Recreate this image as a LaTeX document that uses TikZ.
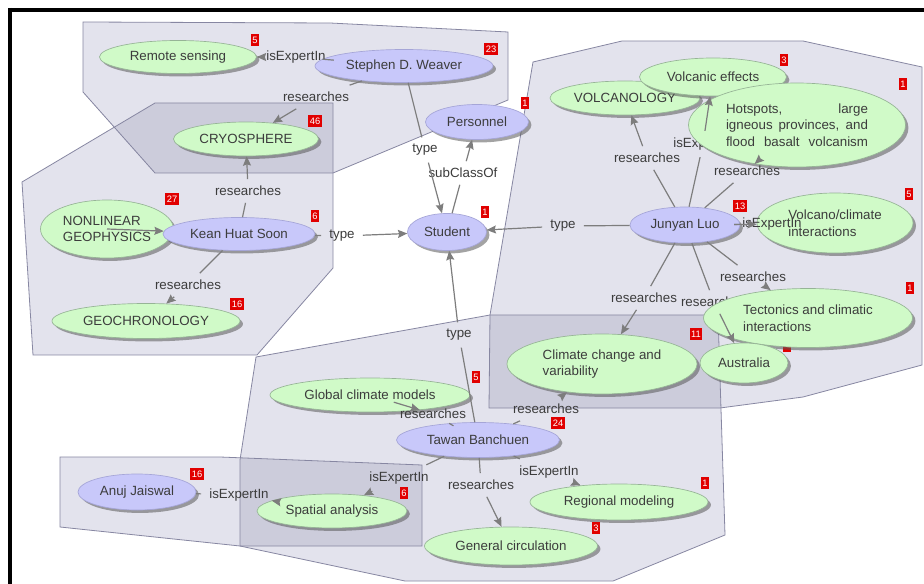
\documentclass[tikz,border=0pt]{standalone}
\usepackage{fontspec}
\setmainfont{Liberation Sans}
\usetikzlibrary{shapes.geometric,arrows.meta,shadows}

\definecolor{grpfill}{RGB}{227,227,237}
\definecolor{grpdark}{RGB}{204,204,219}
\definecolor{grpline}{RGB}{135,135,162}
\definecolor{topicfill}{RGB}{208,250,200}
\definecolor{topicline}{RGB}{150,180,150}
\definecolor{personfill}{RGB}{200,200,250}
\definecolor{personline}{RGB}{165,165,215}
\definecolor{edgecol}{RGB}{125,125,125}
\definecolor{txt}{RGB}{60,60,60}
\definecolor{badgered}{RGB}{225,0,0}

% group outlines (pixel coordinates, y downwards)
\newcommand\polyWeaver{(83,22) -- (330,23) -- (508,32) -- (508,100) -- (333,173) -- (155,173) -- (83,92) -- cycle}
\newcommand\polySoon{(155,103) -- (333,103) -- (333,268) -- (257,355) -- (33,355) -- (22,182) -- cycle}
\newcommand\polyLuo{(533,62) -- (622,41) -- (803,41) -- (922,67) -- (922,365) -- (803,397) -- (720,408) -- (489,408) -- (490,315) -- cycle}
\newcommand\polyBanchuen{(490,315) -- (718,315) -- (725,535) -- (613,581) -- (405,581) -- (240,546) -- (240,460) -- (256,357) -- cycle}
\newcommand\polyJaiswal{(60,457) -- (220,457) -- (422,465) -- (422,546) -- (240,546) -- (60,527) -- cycle}

\tikzset{
  base/.style={ellipse, inner sep=0pt, align=left,
    font=\fontsize{10}{12.5}\selectfont, text=txt,
    drop shadow={shadow xshift=2.2pt, shadow yshift=-2.2pt, fill=black!65, opacity=0.55}},
  topic/.style={base, fill=topicfill, draw=topicline, line width=0.5pt},
  person/.style={base, fill=personfill, draw=personline, line width=0.5pt},
  sz/.style 2 args={minimum width=#1*0.75pt, minimum height=#2*0.75pt},
  elabel/.style={inner xsep=6pt, inner ysep=5pt, font=\fontsize{10}{12}\selectfont, text=txt},
  eline/.style={draw=edgecol, line width=0.9pt},
  earrow/.style={eline, -{Stealth[length=7pt,width=6pt,inset=1pt]}},
  badge/.style={fill=badgered, text=white, font=\fontsize{7}{7}\selectfont,
    inner xsep=1pt, inner ysep=0pt, minimum height=9pt, minimum width=6pt},
  group/.style={fill=grpfill},
  groupline/.style={draw=grpline, line width=0.6pt},
}

\begin{document}
\begin{tikzpicture}[x=0.75pt, y=-0.75pt]
\useasboundingbox (0,0) rectangle (924,584);
\fill[white] (0,0) rectangle (924,584);

% groups
\fill[group] \polyWeaver;
\fill[group] \polySoon;
\fill[group] \polyLuo;
\fill[group] \polyBanchuen;
\fill[group] \polyJaiswal;
\begin{scope}
  \clip \polySoon;
  \fill[grpdark] \polyWeaver;
\end{scope}
\begin{scope}
  \clip \polyLuo;
  \fill[grpdark] \polyBanchuen;
\end{scope}
\begin{scope}
  \clip \polyBanchuen;
  \fill[grpdark] \polyJaiswal;
\end{scope}
\draw[groupline] \polyWeaver;
\draw[groupline] \polySoon;
\draw[groupline] \polyLuo;
\draw[groupline] \polyBanchuen;
\draw[groupline] \polyJaiswal;

% upper left
\node[topic, sz={157}{33}] (remote) at (178,57) {Remote sensing};
\node[person, sz={178}{33}] (weaver) at (404,66) {Stephen D. Weaver};
\node[person, sz={103}{35}] (personnel) at (477,122) {Personnel};
\node[topic, sz={145}{34}] (cryo) at (246,139) {CRYOSPHERE};
\node[topic, sz={133}{58}] (nonlin) at (107,229) {NONLINEAR\\GEOPHYSICS};
\node[person, sz={152}{33}] (soon) at (239,234) {Kean Huat Soon};
\node[topic, sz={188}{35}] (geochron) at (146,321) {GEOCHRONOLOGY};
\node[person, sz={79}{37}] (student) at (447,232) {Student};

% right
\node[topic, sz={150}{34}] (volcanology) at (625,98) {VOLCANOLOGY};
\node[topic, sz={147}{38}] (veffects) at (713,77) {Volcanic effects};
\node[elabel] (lLuoEff) at (703,144) {isExpertIn};
\node[topic, sz={217}{84}] (hotspots) at (797,125)
  {\makebox[106.5pt][s]{Hotspots, large}\\
   \makebox[106.5pt][s]{igneous provinces, and}\\
   \makebox[106.5pt][s]{flood basalt volcanism}};
\node[person, sz={110}{36}] (luo) at (685,225) {Junyan Luo};
\node[topic, sz={156}{60}] (vclimate) at (835,223) {Volcano/climate\\interactions};
\node[elabel] (lLuoAus) at (714,302) {researches};
\node[badge] (bAus) at (787,346) {};
\node[topic, sz={209}{59}] (tectonics) at (808,318) {Tectonics and climatic\\interactions};
\node[topic, sz={88}{40}] (australia) at (744,363) {Australia};
\node[topic, sz={190}{60}] (climate) at (602,364) {Climate change and\\variability};

% lower
\node[topic, sz={200}{34}] (gcm) at (370,395) {Global climate models};
\node[person, sz={163}{35}] (banchuen) at (478,440) {Tawan Banchuen};
\node[person, sz={118}{36}] (jaiswal) at (137,492) {Anuj Jaiswal};
\node[topic, sz={150}{34}] (spatial) at (332,511) {Spatial analysis};
\node[topic, sz={178}{36}] (regional) at (619,502) {Regional modeling};
\node[topic, sz={173}{38}] (circulation) at (511,546) {General circulation};

% badges
\node[badge] (bRemote) at (255,40) {5};
\node[badge] (bCryo) at (315,121) {46};
\node[badge] (bWeaver) at (491,49) {23};
\node[badge] (bPersonnel) at (525,103) {1};
\node[badge] (bEffects) at (784,60) {3};
\node[badge] (bHotspots) at (903,84) {1};
\node[badge] (bNonlin) at (172,199) {27};
\node[badge] (bSoon) at (315,216) {6};
\node[badge] (bGeochron) at (237,304) {16};
\node[badge] (bStudent) at (485,212) {1};
\node[badge] (bLuo) at (740,206) {13};
\node[badge] (bVclimate) at (909,194) {5};
\node[badge] (bTectonics) at (910,288) {1};
\node[badge] (bClimate) at (696,334) {11};
\node[badge] (bGcm) at (476,377) {5};
\node[badge] (bBanchuen) at (558,423) {24};
\node[badge] (bJaiswal) at (197,474) {16};
\node[badge] (bSpatial) at (404,493) {6};
\node[badge] (bRegional) at (705,483) {1};
\node[badge] (bCirculation) at (596,528) {3};

% edge labels
\node[elabel] (lWeaverRem) at (296,57) {isExpertIn};
\node[elabel] (lWeaverCryo) at (316,97) {researches};
\node[elabel] (lWeaverType) at (425,150) {type};
\node[elabel] (lSubclass) at (463,173) {subClassOf};
\node[elabel] (lSoonCryo) at (248,191) {researches};
\node[elabel] (lSoonType) at (342,236) {type};
\node[elabel] (lSoonGeo) at (188,285) {researches};
\node[elabel] (lLuoType) at (563,226) {type};
\node[elabel] (lLuoVolc) at (647,158) {researches};
\node[elabel] (lLuoHot) at (747,171) {researches};
\node[elabel] (lLuoVc) at (772,224) {isExpertIn};
\node[elabel] (lLuoTect) at (753,277) {researches};
\node[elabel] (lLuoClim) at (644,298) {researches};
\node[elabel] (lBanType) at (459,335) {type};
\node[elabel] (lBanGcm) at (433,414) {researches};
\node[elabel] (lBanClim) at (546,409) {researches};
\node[elabel] (lBanSpat) at (399,478) {isExpertIn};
\node[elabel] (lBanCirc) at (481,485) {researches};
\node[elabel] (lBanReg) at (549,472) {isExpertIn};
\node[elabel] (lJaisSpat) at (239,495) {isExpertIn};

% connectors
\draw[eline] (weaver) -- (lWeaverRem);   \draw[earrow] (lWeaverRem) -- (remote);
\draw[eline] (weaver) -- (lWeaverCryo);  \draw[earrow] (lWeaverCryo) -- (cryo);
\draw[eline] (weaver) -- (lWeaverType);  \draw[earrow] (lWeaverType) -- (student);
\draw[eline] (student) -- (lSubclass);   \draw[earrow] (lSubclass) -- (personnel);
\draw[eline] (soon) -- (lSoonCryo);      \draw[earrow] (lSoonCryo) -- (cryo);
\draw[eline] (soon) -- (lSoonType);      \draw[earrow] (lSoonType) -- (student);
\draw[eline] (soon) -- (lSoonGeo);       \draw[earrow] (lSoonGeo) -- (geochron);
\draw[earrow] (nonlin.center) -- (soon);
\draw[eline] (luo) -- (lLuoType);        \draw[earrow] (lLuoType) -- (student);
\draw[eline] (luo) -- (lLuoVolc);        \draw[earrow] (lLuoVolc) -- (volcanology);
\draw[eline] (luo) -- (lLuoEff);         \draw[earrow] (lLuoEff) -- (veffects);
\draw[eline] (luo) -- (lLuoHot);         \draw[earrow] (lLuoHot) -- (hotspots);
\draw[eline] (luo) -- (lLuoVc);          \draw[earrow] (lLuoVc) -- (vclimate);
\draw[eline] (luo) -- (lLuoTect);        \draw[earrow] (lLuoTect) -- (tectonics);
\draw[eline] (luo) -- (lLuoClim);        \draw[earrow] (lLuoClim) -- (climate);
\draw[eline] (luo) -- (lLuoAus);         \draw[earrow] (lLuoAus) -- (australia);
\draw[eline] (banchuen) -- (lBanType);   \draw[earrow] (lBanType) -- (student);
\draw[eline] (banchuen) -- (lBanGcm);    \draw[earrow] (lBanGcm) -- (gcm);
\draw[eline] (banchuen) -- (lBanClim);   \draw[earrow] (lBanClim) -- (climate);
\draw[eline] (banchuen) -- (lBanSpat);   \draw[earrow] (lBanSpat) -- (spatial);
\draw[eline] (banchuen) -- (lBanCirc);   \draw[earrow] (lBanCirc) -- (circulation);
\draw[eline] (banchuen) -- (lBanReg);    \draw[earrow] (lBanReg) -- (regional);
\draw[eline] (jaiswal) -- (lJaisSpat);   \draw[earrow] (lJaisSpat) -- (spatial);

% window frame
\draw[line width=2.6pt] (8,10) -- (924,10);
\draw[line width=2.6pt] (10,8) -- (10,584);
\end{tikzpicture}
\end{document}
